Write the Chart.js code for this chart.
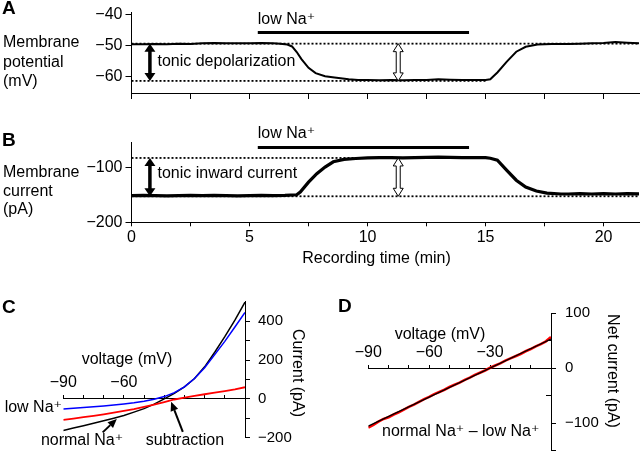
<!DOCTYPE html>
<html><head><meta charset="utf-8">
<script src="https://cdn.jsdelivr.net/npm/chart.js@4.4.1/dist/chart.umd.min.js"></script>
<style>
html,body{margin:0;padding:0;background:#fff;}
#wrap{position:relative;width:640px;height:452px;overflow:hidden;background:#fff;}
canvas{position:absolute;}
</style></head><body>
<div id="wrap">
<canvas id="cA" width="640" height="100" style="left:0;top:0"></canvas>
<canvas id="cB" width="640" height="170" style="left:0;top:100px"></canvas>
<canvas id="cC" width="320" height="162" style="left:0;top:290px"></canvas>
<canvas id="cD" width="320" height="162" style="left:320px;top:290px"></canvas>
</div>
<script>
// ---------- DATA ----------
// Panel A: membrane potential (mV) vs recording time (min)
const timeA = [0,0.5,1,1.5,2,2.5,3,3.5,4,4.5,5,5.5,6,6.3,6.6,6.8,7.0,7.2,7.5,7.8,8.2,8.6,9.2,9.6,10,10.5,11,11.5,12,12.5,13,13.5,14,14.5,15,15.2,15.5,15.9,16.3,16.7,17.2,17.8,18.5,19,19.5,20,20.5,21,21.5];
const potentialA = [-49.7,-49.7,-49.6,-49.7,-49.5,-49.6,-49.4,-49.3,-49.4,-49.4,-49.4,-49.3,-49.4,-49.5,-49.8,-50.4,-52.2,-54.5,-57.3,-59.0,-60.0,-60.4,-61.0,-61.2,-61.2,-61.3,-61.2,-61.3,-61.2,-61.2,-61.0,-61.1,-61.2,-61.2,-61.2,-61.0,-58.8,-55.3,-52.1,-50.5,-49.8,-49.6,-49.6,-49.5,-49.4,-49.3,-49.0,-49.2,-49.4];
const restPotential = -49.5;     // upper dotted level
const lowNaPotential = -61.5;    // lower dotted level
// Panel B: membrane current (pA) vs recording time (min)
const timeB = [0,0.5,1,1.5,2,2.5,3,3.5,4,4.5,5,5.5,6,6.5,7.0,7.15,7.5,7.85,8.2,8.55,9.0,9.5,10,10.5,11,11.5,12,12.5,13,13.5,14,14.5,15.0,15.2,15.5,15.9,16.3,16.7,17.15,17.6,18.2,18.5,19,19.5,20,20.5,21,21.5];
const currentB = [-151.5,-151,-151.5,-152,-151.5,-151,-151.5,-151,-151.5,-152,-151.5,-151,-151.5,-151,-150,-145,-127,-111.5,-99.5,-90,-85.5,-84,-83,-82.5,-82.5,-83,-82.5,-82,-81.5,-82,-82.5,-82.5,-82.5,-83.5,-87,-105.5,-123.5,-136,-143,-147,-148.5,-148.5,-148,-148.5,-148,-148.5,-148,-148.5];
const restCurrent = -152.7;
const lowNaCurrent = -83;
// low Na+ application period (min)
const lowNaPeriod = [5.35, 14.3];
const arrowTime = [0.78, 11.3];
// axis ticks
const timeTicks = [0,2.5,5,7.5,10,12.5,15,17.5,20];
const potentialTicks = [-60,-50,-40];
const currentTicksB = [-200,-100];
// Panel C: I-V curves
const voltageC = [-90,-85,-80,-75,-70,-65,-60,-55,-50,-45,-40,-35,-30,-25,-20,-15,-10,-5,0];
const normalNaC = [-162,-150,-138,-125,-112,-99,-85,-68,-50,-27,0,28,62,105,165,240,320,405,498];
const lowNaC = [-52,-48,-44,-40,-36,-31,-26,-20,-12,-2,12,32,62,105,160,228,296,370,445];
const subtractionC = [-108,-101,-94,-87,-79,-70,-61,-52,-41,-29,-16,-3,7,16,24,32,40,49,60];
const voltageTicks = [-90,-80,-70,-60,-50,-40,-30,-20,-10,0];
const currentTicksC = [-200,-100,0,100,200,300,400];
// Panel D: net current
const voltageD = [-90,-87.5,-85,-82.5,-80,-77.5,-75,-72.5,-70,-67.5,-65,-62.5,-60,-57.5,-55,-52.5,-50,-47.5,-45,-42.5,-40,-37.5,-35,-32.5,-30,-27.5,-25,-22.5,-20,-17.5,-15,-12.5,-10,-7.5,-5,-2.5,0];
const netCurrentD = [-108,-103,-97,-92,-89,-84,-80,-75,-70,-66,-61,-56,-52,-47,-43,-39,-34,-30,-26,-21,-17,-12,-8,-4,1,5,9,14,18,22,26,31,35,40,44,49,57];
const fitVoltageD = [-90,0];
const fitCurrentD = [-105,53];
const netTicksMajor = [-150,-100,0,100];
const netTicksMinor = [-50,50];

// ---------- HELPERS ----------
const FONT = '"Liberation Sans", Arial, "DejaVu Sans", sans-serif';
Chart.defaults.font.family = FONT;
Chart.defaults.color = '#000';
const pts = (xs, ys) => xs.map((x, i) => ({x, y: ys[i]}));
const fmt = v => (v < 0 ? '\u2212' + Math.abs(v) : String(v));
const setTicks = list => s => { s.ticks = list.map(v => ({value: v})); };
function txt(ctx, s, x, y, o) {
  o = o || {};
  ctx.save();
  ctx.font = (o.bold ? 'bold ' : '') + (o.size || 16) + 'px ' + FONT;
  ctx.fillStyle = '#000';
  ctx.textAlign = o.align || 'left';
  ctx.textBaseline = 'middle';
  ctx.translate(x, y);
  if (o.rot) ctx.rotate(o.rot);
  ctx.fillText(s, 0, 0);
  ctx.restore();
}
function dblArrow(ctx, x, y1, y2, hollow) {
  const hl = 8, hw = hollow ? 10 : 11, sw = hollow ? 4 : 3.5;
  ctx.save();
  ctx.beginPath();
  ctx.moveTo(x, y1);
  ctx.lineTo(x + hw/2, y1 + hl); ctx.lineTo(x + sw/2, y1 + hl);
  ctx.lineTo(x + sw/2, y2 - hl); ctx.lineTo(x + hw/2, y2 - hl);
  ctx.lineTo(x, y2);
  ctx.lineTo(x - hw/2, y2 - hl); ctx.lineTo(x - sw/2, y2 - hl);
  ctx.lineTo(x - sw/2, y1 + hl); ctx.lineTo(x - hw/2, y1 + hl);
  ctx.closePath();
  if (hollow) { ctx.fillStyle = '#fff'; ctx.fill(); ctx.strokeStyle = '#000'; ctx.lineWidth = 1; ctx.stroke(); }
  else { ctx.fillStyle = '#000'; ctx.fill(); }
  ctx.restore();
}
function arrow(ctx, x1, y1, x2, y2) {
  const a = Math.atan2(y2 - y1, x2 - x1), hl = 9, hw = 4;
  ctx.save();
  ctx.strokeStyle = '#000'; ctx.fillStyle = '#000'; ctx.lineWidth = 2;
  ctx.beginPath(); ctx.moveTo(x1, y1);
  ctx.lineTo(x2 - hl * Math.cos(a), y2 - hl * Math.sin(a)); ctx.stroke();
  ctx.beginPath(); ctx.moveTo(x2, y2);
  ctx.lineTo(x2 - hl*Math.cos(a) - hw*Math.sin(a), y2 - hl*Math.sin(a) + hw*Math.cos(a));
  ctx.lineTo(x2 - hl*Math.cos(a) + hw*Math.sin(a), y2 - hl*Math.sin(a) - hw*Math.cos(a));
  ctx.closePath(); ctx.fill();
  ctx.restore();
}
function zeroPad(s) { s.paddingTop = 0; s.paddingBottom = 0; s.paddingLeft = 0; s.paddingRight = 0; }
const baseOpts = {
  responsive: false, animation: false, devicePixelRatio: 1, events: [],
  plugins: {legend: {display: false}, tooltip: {enabled: false}},
  elements: {point: {radius: 0}, line: {tension: 0}}
};
function axisGrid(len) { return {display: true, drawOnChartArea: false, drawTicks: true, tickLength: len, color: '#000', tickColor: '#000', tickWidth: 1}; }
const border = {display: true, color: '#000', width: 1};
function timeAxis(labels, height, tickLen, pad) {
  return {type: 'linear', min: 0, max: 21.5, position: 'bottom',
    afterBuildTicks: setTicks(timeTicks),
    afterFit: s => { s.height = height; zeroPad(s); },
    grid: axisGrid(tickLen), border,
    ticks: {display: true, autoSkip: false, maxRotation: 0, padding: pad, font: {size: 16},
      callback: v => (labels && v % 5 === 0 ? String(v) : '')}};
}
function line(data, color, width, dash) {
  return {data, showLine: true, borderColor: color, backgroundColor: color, borderWidth: width,
          borderDash: dash || [], pointRadius: 0, fill: false};
}

// ---------- PANEL A ----------
new Chart(document.getElementById('cA'), {
  type: 'scatter',
  data: {datasets: [
    line(pts(timeA, potentialA), '#000', 2),
    line(pts(lowNaPeriod, [-45.9, -45.9]), '#000', 3),
    line(pts([0, 21.5], [restPotential, restPotential]), '#000', 1.8, [2, 2]),
    line(pts([0, 15], [lowNaPotential, lowNaPotential]), '#000', 1.8, [2, 2])
  ]},
  options: Object.assign({}, baseOpts, {
    layout: {padding: {left: 0, top: 12, right: 1, bottom: 0}},
    scales: {
      x: timeAxis(false, 7, 6, 0),
      y: {type: 'linear', min: -65.4, max: -39.3, position: 'left',
        afterBuildTicks: setTicks(potentialTicks),
        afterFit: s => { s.width = 131.5; zeroPad(s); },
        grid: axisGrid(6), border,
        ticks: {padding: 3, font: {size: 16}, callback: fmt}}
    }
  }),
  plugins: [{id: 'annA', afterDraw(chart) {
    const ctx = chart.ctx, xs = chart.scales.x, ys = chart.scales.y;
    txt(ctx, 'A', 2, 9, {size: 19, bold: true});
    txt(ctx, 'Membrane', 3, 43); txt(ctx, 'potential', 3, 63); txt(ctx, '(mV)', 3, 82);
    txt(ctx, 'low Na\u207A', xs.getPixelForValue(lowNaPeriod[0]), ys.getPixelForValue(-41.8));
    dblArrow(ctx, xs.getPixelForValue(arrowTime[0]), ys.getPixelForValue(restPotential), ys.getPixelForValue(lowNaPotential), false);
    txt(ctx, 'tonic depolarization', xs.getPixelForValue(1.1), ys.getPixelForValue(-55.4));
    dblArrow(ctx, xs.getPixelForValue(arrowTime[1]), ys.getPixelForValue(restPotential), ys.getPixelForValue(lowNaPotential), true);
  }}]
});

// ---------- PANEL B ----------
new Chart(document.getElementById('cB'), {
  type: 'scatter',
  data: {datasets: [
    line(pts(timeB, currentB), '#000', 3.2),
    line(pts(lowNaPeriod, [-64.2, -64.2]), '#000', 3),
    line(pts([0, 15], [lowNaCurrent, lowNaCurrent]), '#000', 1.8, [2, 2]),
    line(pts([0, 21.5], [restCurrent, restCurrent]), '#000', 1.8, [2, 2])
  ]},
  options: Object.assign({}, baseOpts, {
    layout: {padding: {left: 0, top: 42, right: 1, bottom: 0}},
    scales: {
      x: timeAxis(true, 47.7, 4, 2),
      y: {type: 'linear', min: -200, max: -54, position: 'left',
        afterBuildTicks: setTicks(currentTicksB),
        afterFit: s => { s.width = 131.5; zeroPad(s); },
        grid: axisGrid(6), border,
        ticks: {padding: 3, font: {size: 16}, callback: fmt}}
    }
  }),
  plugins: [{id: 'annB', afterDraw(chart) {
    const ctx = chart.ctx, xs = chart.scales.x, ys = chart.scales.y;
    txt(ctx, 'B', 2, 41, {size: 19, bold: true});
    txt(ctx, 'Membrane', 3, 73); txt(ctx, 'current', 3, 92); txt(ctx, '(pA)', 3, 110);
    txt(ctx, 'low Na\u207A', xs.getPixelForValue(lowNaPeriod[0]), ys.getPixelForValue(-38.2));
    dblArrow(ctx, xs.getPixelForValue(arrowTime[0]), ys.getPixelForValue(lowNaCurrent), ys.getPixelForValue(restCurrent), false);
    txt(ctx, 'tonic inward current', xs.getPixelForValue(1.1), ys.getPixelForValue(-110.9));
    dblArrow(ctx, xs.getPixelForValue(arrowTime[1]), ys.getPixelForValue(lowNaCurrent), ys.getPixelForValue(restCurrent), true);
    txt(ctx, 'Recording time (min)', 376.5, 159, {align: 'center'});
  }}]
});

// ---------- PANEL C ----------
function voltAxis(labelSet, pad) {
  return {type: 'linear', min: -90, max: 0, position: {y: 0},
    afterBuildTicks: setTicks(voltageTicks),
    afterFit: s => { zeroPad(s); },
    grid: axisGrid(-4), border,
    ticks: {autoSkip: false, maxRotation: 0, padding: pad, font: {size: 16},
      callback: v => (labelSet.includes(v) ? fmt(v) : '')}};
}
new Chart(document.getElementById('cC'), {
  type: 'scatter',
  data: {datasets: [
    line(pts(voltageC, subtractionC), '#ff0000', 1.8),
    line(pts(voltageC, lowNaC), '#0000ff', 1.5),
    line(pts(voltageC, normalNaC), '#000', 1.5)
  ]},
  options: Object.assign({}, baseOpts, {
    layout: {padding: {left: 63.3, top: 11.7, right: 0, bottom: 14.2}},
    scales: {
      x: voltAxis([-90, -60], -21.6),
      y: {type: 'linear', min: -200, max: 500, position: 'right',
        afterBuildTicks: setTicks(currentTicksC),
        afterFit: s => { s.width = 75; zeroPad(s); },
        grid: axisGrid(5), border,
        ticks: {padding: 8, font: {size: 15}, callback: v => (v % 200 === 0 ? fmt(v) : '')}}
    }
  }),
  plugins: [{id: 'annC', afterDraw(chart) {
    const ctx = chart.ctx, xs = chart.scales.x, ys = chart.scales.y;
    txt(ctx, 'C', 2, 17.5, {size: 19, bold: true});
    txt(ctx, 'voltage (mV)', 127, 70, {align: 'center'});
    txt(ctx, 'Current (pA)', 297, 83, {align: 'center', rot: Math.PI / 2});
    txt(ctx, 'low Na\u207A', 62, 118, {align: 'right'});
    txt(ctx, 'normal Na\u207A', 82, 151, {align: 'center'});
    txt(ctx, 'subtraction', 185, 151, {align: 'center'});
    arrow(ctx, xs.getPixelForValue(-70.5), ys.getPixelForValue(-172), xs.getPixelForValue(-63.5), ys.getPixelForValue(-103));
    arrow(ctx, xs.getPixelForValue(-30.8), ys.getPixelForValue(-170), xs.getPixelForValue(-36.6), ys.getPixelForValue(-15));
  }}]
});

// ---------- PANEL D ----------
new Chart(document.getElementById('cD'), {
  type: 'scatter',
  data: {datasets: [
    line(pts(fitVoltageD, fitCurrentD), '#000', 1.3),
    line(pts(voltageD, netCurrentD), '#ff0000', 2.6)
  ]},
  options: Object.assign({}, baseOpts, {
    layout: {padding: {left: 48.3, top: 23.3, right: 0, bottom: 1.2}},
    scales: {
      x: voltAxis([-90, -60, -30], -20.9),
      y: {type: 'linear', min: -150, max: 100, position: 'right',
        afterBuildTicks: setTicks(netTicksMajor),
        afterFit: s => { s.width = 89; zeroPad(s); },
        grid: axisGrid(5), border,
        ticks: {padding: 9, font: {size: 15}, callback: v => (v % 100 === 0 ? fmt(v) : '')}},
      yMinor: {type: 'linear', min: -150, max: 100, position: {x: 0},
        afterBuildTicks: setTicks(netTicksMinor),
        afterFit: s => { zeroPad(s); },
        grid: axisGrid(5), border: {display: false},
        ticks: {display: false}}
    }
  }),
  plugins: [{id: 'annD', afterDraw(chart) {
    const ctx = chart.ctx;
    txt(ctx, 'D', 18, 17, {size: 19, bold: true});
    txt(ctx, 'voltage (mV)', 120, 45, {align: 'center'});
    txt(ctx, 'Net current (pA)', 292, 81, {align: 'center', rot: Math.PI / 2});
    txt(ctx, 'normal Na\u207A \u2013 low Na\u207A', 62, 142);
  }}]
});
</script>
</body></html>
